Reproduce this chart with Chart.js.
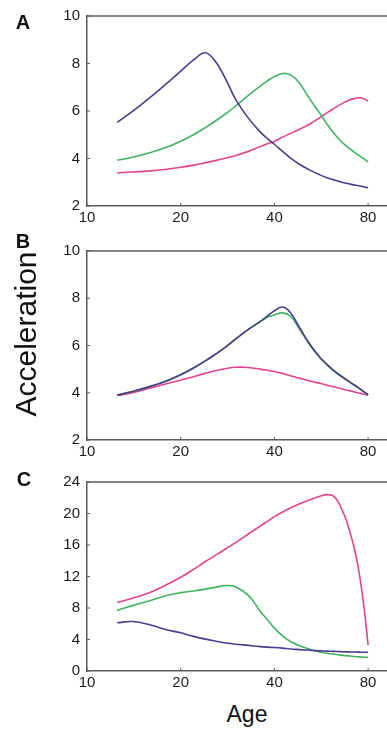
<!DOCTYPE html>
<html><head><meta charset="utf-8">
<script src="https://cdn.jsdelivr.net/npm/chart.js@4.4.1/dist/chart.umd.min.js"></script>
<style>
html,body{margin:0;padding:0;background:#fff;width:387px;height:730px;overflow:hidden;position:relative;font-family:"Liberation Sans",Arial,sans-serif;}
.wrap{position:absolute;left:0;width:387px;}
.lbl{position:absolute;transform:translate(-50%,-50%);line-height:1;color:#111;white-space:nowrap;}
.pl{font-weight:bold;font-size:20px;}
</style></head><body>
<div class="wrap" style="top:0;height:230px"><canvas id="cA"></canvas></div>
<div class="wrap" style="top:235px;height:229px"><canvas id="cB"></canvas></div>
<div class="wrap" style="top:466px;height:229px"><canvas id="cC"></canvas></div>
<div class="lbl pl" style="left:23px;top:22px">A</div>
<div class="lbl pl" style="left:23px;top:241px">B</div>
<div class="lbl pl" style="left:24px;top:479px">C</div>
<div class="lbl" style="left:26px;top:334px;font-size:30px;transform:translate(-50%,-50%) rotate(-90deg)">Acceleration</div>
<div class="lbl" style="left:247px;top:714px;font-size:23px">Age</div>
<script>
// ---- data ----
const ages = [12.5,14,16,18,20,22,24,26,28,30,33,36,38,40,42.5,45,48,52,56,59,62,65,68,70,72,74,76,78,80];
const xTickValues = [10,20,40,80];
const seriesColors = ['#4b3c8e','#3fb35e','#e0448c'];

const panelA_purple = [5.52,5.98,6.58,7.15,7.68,8.15,8.45,8.04,7.3,6.5,5.7,5.12,4.84,4.6,4.3,4.03,3.77,3.51,3.31,3.19,3.1,3.02,2.96,2.92,2.89,2.86,2.83,2.8,2.77];
const panelA_green  = [3.93,4.05,4.25,4.47,4.73,5.0,5.3,5.6,5.9,6.2,6.66,7.05,7.27,7.45,7.58,7.52,7.2,6.5,5.9,5.45,5.07,4.77,4.53,4.4,4.28,4.17,4.06,3.96,3.86];
const panelA_pink   = [3.4,3.43,3.48,3.55,3.63,3.72,3.82,3.92,4.02,4.12,4.3,4.5,4.62,4.72,4.9,5.05,5.22,5.45,5.72,5.92,6.1,6.27,6.4,6.47,6.52,6.55,6.55,6.5,6.42];

const panelB_purple = [3.9,4.05,4.27,4.5,4.76,5.05,5.35,5.65,5.95,6.27,6.68,7.02,7.25,7.47,7.63,7.4,6.8,6.05,5.5,5.2,4.95,4.74,4.56,4.45,4.34,4.24,4.13,4.02,3.92];
const panelB_green  = [3.9,4.05,4.27,4.5,4.76,5.05,5.35,5.65,5.95,6.27,6.68,7.0,7.2,7.3,7.38,7.25,6.72,6.02,5.48,5.18,4.93,4.73,4.55,4.44,4.33,4.23,4.12,4.01,3.91];
const panelB_pink   = [3.88,4.0,4.2,4.38,4.53,4.68,4.82,4.94,5.03,5.08,5.07,5.0,4.95,4.9,4.82,4.72,4.62,4.5,4.4,4.32,4.25,4.19,4.12,4.08,4.04,4.0,3.97,3.93,3.9];

const panelC_purple = [6.12,6.28,5.85,5.25,4.85,4.4,4.05,3.78,3.55,3.4,3.25,3.1,3.03,2.98,2.9,2.8,2.72,2.63,2.56,2.52,2.49,2.46,2.43,2.42,2.41,2.4,2.39,2.38,2.37];
const panelC_green  = [7.7,8.3,8.95,9.6,9.95,10.15,10.4,10.65,10.86,10.7,9.6,7.6,6.5,5.45,4.45,3.75,3.25,2.75,2.42,2.25,2.12,2.02,1.94,1.9,1.85,1.81,1.78,1.75,1.73];
const panelC_pink   = [8.7,9.25,10.0,10.95,11.9,12.9,13.9,14.75,15.55,16.3,17.4,18.4,19.0,19.6,20.2,20.7,21.2,21.75,22.2,22.4,22.2,21.0,19.2,17.6,15.8,13.6,10.8,7.4,3.3];

const FONT = '"Liberation Sans", Arial, sans-serif';
const AXIS_COLOR = '#5a5a5a';

const framePlugin = {
  id: 'frame',
  afterDraw(chart) {
    const {ctx, chartArea: a, scales} = chart;
    ctx.save();
    ctx.strokeStyle = AXIS_COLOR;
    ctx.lineWidth = 1.5;
    ctx.beginPath();
    ctx.moveTo(a.left, a.top);
    ctx.lineTo(a.right, a.top);
    ctx.stroke();
    ctx.lineWidth = 1;
    ctx.beginPath();
    scales.x.ticks.forEach(t => {
      const px = scales.x.getPixelForValue(t.value);
      ctx.moveTo(px, a.bottom); ctx.lineTo(px, a.bottom - 3);
    });
    scales.y.ticks.forEach(t => {
      const py = scales.y.getPixelForValue(t.value);
      ctx.moveTo(a.left, py); ctx.lineTo(a.left + 3, py);
    });
    ctx.stroke();
    ctx.restore();
  }
};

function makeChart(id, series, yMin, yMax, yStep) {
  const datasets = series.map((vals, i) => ({
    data: ages.map((a, j) => ({x: a, y: vals[j]})),
    borderColor: seriesColors[i],
    borderWidth: 1.6,
    pointRadius: 0,
    fill: false,
    tension: 0.4
  }));
  return new Chart(document.getElementById(id), {
    type: 'line',
    data: {datasets},
    plugins: [framePlugin],
    options: {
      responsive: true,
      maintainAspectRatio: false,
      animation: false,
      layout: {padding: {top: 15, right: 0, left: 0, bottom: 0}},
      plugins: {legend: {display: false}, tooltip: {enabled: false}},
      scales: {
        x: {
          type: 'logarithmic',
          min: 10, max: 92,
          afterBuildTicks: s => { s.ticks = xTickValues.map(v => ({value: v})); },
          afterFit: s => { s.height = 24; },
          grid: {display: false, drawTicks: false, tickLength: 0},
          border: {display: true, color: AXIS_COLOR, width: 1.5},
          ticks: {color: '#1a1a1a', font: {family: FONT, size: 15}, padding: 3, maxRotation: 0, autoSkip: false,
                  callback: v => String(v)}
        },
        y: {
          min: yMin, max: yMax,
          afterFit: s => { s.width = 87; },
          grid: {display: false, drawTicks: false, tickLength: 0},
          border: {display: true, color: AXIS_COLOR, width: 1.5},
          ticks: {stepSize: yStep, color: '#1a1a1a', font: {family: FONT, size: 15}, padding: 7}
        }
      }
    }
  });
}

makeChart('cA', [panelA_purple, panelA_green, panelA_pink], 2, 10, 2);
makeChart('cB', [panelB_purple, panelB_green, panelB_pink], 2, 10, 2);
makeChart('cC', [panelC_purple, panelC_green, panelC_pink], 0, 24, 4);
</script>
</body></html>
